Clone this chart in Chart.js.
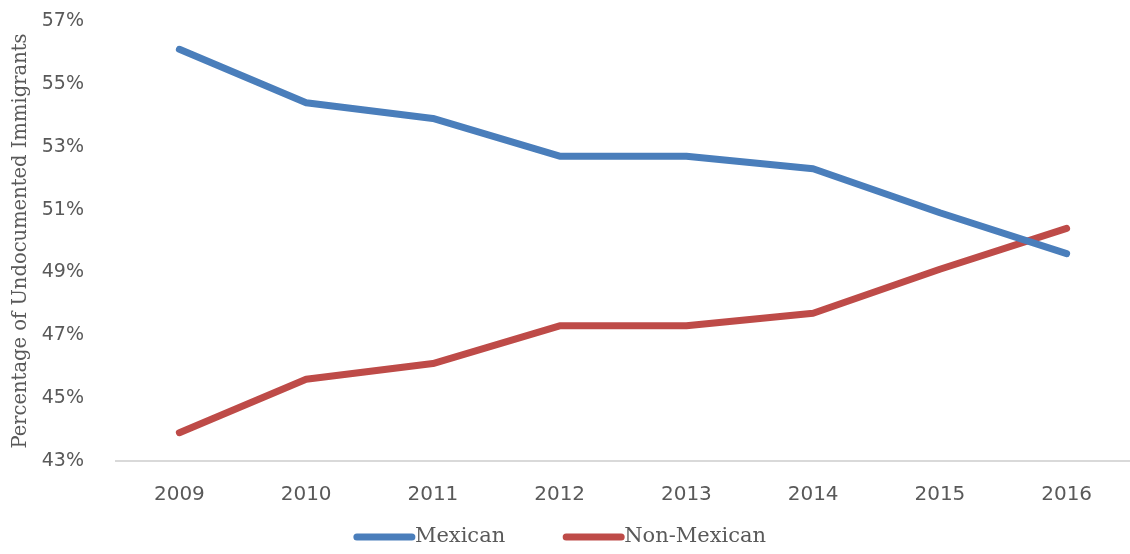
<!DOCTYPE html>
<html>
<head>
<meta charset="utf-8">
<script src="https://cdn.jsdelivr.net/npm/chart.js@4"></script>
<style>
  html, body { margin: 0; padding: 0; background: #fff; }
  #wrap { width: 1130px; height: 554px; position: relative; }
</style>
</head>
<body>
<div id="wrap"><canvas id="chart"></canvas></div>
<script>
const years = ['2009', '2010', '2011', '2012', '2013', '2014', '2015', '2016'];
const mexican = [56.1, 54.4, 53.9, 52.7, 52.7, 52.3, 50.9, 49.6];
const nonMexican = [43.9, 45.6, 46.1, 47.3, 47.3, 47.7, 49.1, 50.4];
const yMin = 43;
const yMax = 57;
const yStep = 2;

const grey = '#595959';

// legend drawn by hand so the spacing matches (line swatch touching the label)
const bottomLegend = {
  id: 'bottomLegend',
  afterDraw(chart) {
    const ctx = chart.ctx;
    const y = 537;
    const swatch = 55;
    const itemGap = 56;
    ctx.save();
    ctx.font = '21px "DejaVu Serif"';
    ctx.textBaseline = 'middle';
    const items = chart.data.datasets.map(ds => ({
      text: ds.label,
      color: ds.borderColor,
      w: swatch + 8 + ctx.measureText(ds.label).width
    }));
    let total = items.reduce((s, it) => s + it.w, 0) + itemGap * (items.length - 1);
    let x = chart.width / 2 - 5 - total / 2;
    items.forEach(it => {
      ctx.strokeStyle = it.color;
      ctx.lineWidth = 7;
      ctx.lineCap = 'round';
      ctx.beginPath();
      ctx.moveTo(x + 4, y);
      ctx.lineTo(x + 4 + swatch, y);
      ctx.stroke();
      ctx.fillStyle = grey;
      ctx.fillText(it.text, x + swatch + 7, y);
      x += it.w + itemGap;
    });
    ctx.restore();
  }
};

new Chart(document.getElementById('chart'), {
  type: 'line',
  data: {
    labels: years,
    datasets: [{
      label: 'Mexican',
      data: mexican,
      borderColor: '#4a7ebb',
      backgroundColor: '#4a7ebb',
      borderWidth: 7,
      borderCapStyle: 'round',
      borderJoinStyle: 'round',
      pointRadius: 0,
      tension: 0
    }, {
      label: 'Non-Mexican',
      data: nonMexican,
      borderColor: '#be4b48',
      backgroundColor: '#be4b48',
      borderWidth: 7,
      borderCapStyle: 'round',
      borderJoinStyle: 'round',
      pointRadius: 0,
      tension: 0
    }]
  },
  options: {
    animation: false,
    responsive: true,
    maintainAspectRatio: false,
    layout: {
      padding: { top: 21, right: 0, left: 0, bottom: 43 }
    },
    plugins: {
      legend: { display: false },
      tooltip: { enabled: false }
    },
    scales: {
      x: {
        offset: true,
        grid: { display: false },
        border: { display: true, color: '#d9d9d9', width: 2 },
        ticks: {
          color: grey,
          padding: 14,
          font: { family: 'DejaVu Sans', size: 20 }
        },
        afterFit: function(scale){
          scale.height = 50;
          scale.paddingLeft = 0;
          scale.paddingRight = 0;
        }
      },
      y: {
        min: yMin,
        max: yMax,
        grid: { display: false },
        border: { display: false },
        title: {
          display: true,
          text: 'Percentage of Undocumented Immigrants',
          color: grey,
          padding: { top: 9, bottom: 4 },
          font: { family: 'DejaVu Serif', size: 19.5 }
        },
        ticks: {
          stepSize: yStep,
          color: grey,
          padding: 24,
          font: { family: 'DejaVu Sans', size: 19 },
          callback: function(value){
            return value + '%';
          }
        },
        afterFit: function(scale){
          scale.width = 116;
          scale.paddingTop = 0;
          scale.paddingBottom = 0;
        }
      }
    }
  },
  plugins: [bottomLegend]
});
</script>
</body>
</html>
